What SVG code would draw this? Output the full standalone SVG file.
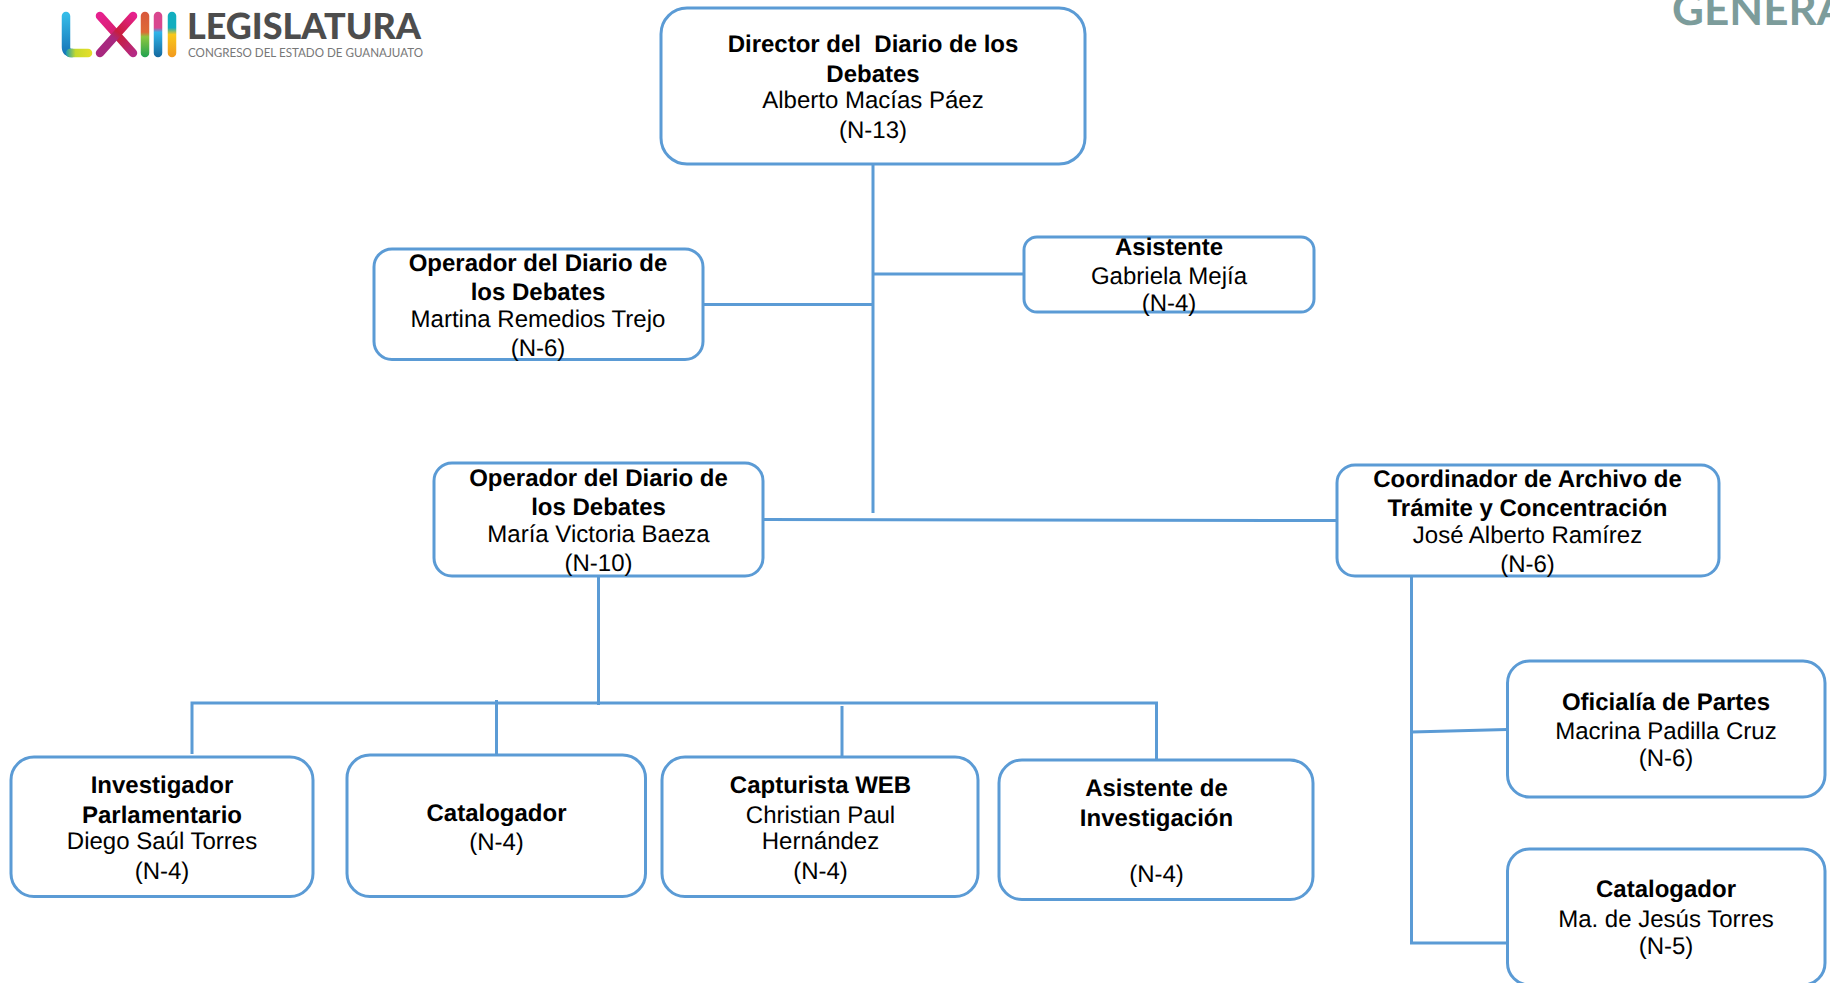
<svg xmlns="http://www.w3.org/2000/svg" width="1830" height="983" viewBox="0 0 1830 983">
<style>
.box{fill:#fff;stroke:#5B9BD5;stroke-width:3}
.ln{stroke:#5B9BD5;stroke-width:3;fill:none}
text{font-family:"Liberation Sans",Arial,sans-serif;font-size:24px;fill:#000;text-anchor:middle;text-rendering:geometricPrecision}
.b{font-weight:700}
.logo{fill:#4d4d4d;text-anchor:start;font-family:Lato,"Open Sans",sans-serif}
.bar{fill:none;stroke-width:8.5;stroke-linecap:round}
</style>
<defs>
<linearGradient id="gL" gradientUnits="userSpaceOnUse" x1="0" y1="14" x2="0" y2="57"><stop offset="0" stop-color="#35BCE8"/><stop offset="1" stop-color="#1470B5"/></linearGradient>
<linearGradient id="gF" gradientUnits="userSpaceOnUse" x1="66" y1="0" x2="90" y2="0"><stop offset="0" stop-color="#1C9CB0"/><stop offset=".4" stop-color="#C5DA2C"/><stop offset="1" stop-color="#E3DE2A"/></linearGradient>
<linearGradient id="gX1" gradientUnits="userSpaceOnUse" x1="100" y1="15" x2="134" y2="54"><stop offset="0" stop-color="#E6218E"/><stop offset=".45" stop-color="#D6206F"/><stop offset=".55" stop-color="#C81E3C"/><stop offset="1" stop-color="#B52A85"/></linearGradient>
<linearGradient id="gX2" gradientUnits="userSpaceOnUse" x1="134" y1="15" x2="100" y2="54"><stop offset="0" stop-color="#E6218E"/><stop offset=".45" stop-color="#C81E3C"/><stop offset=".6" stop-color="#A8287F"/><stop offset="1" stop-color="#A8287F"/></linearGradient>
<linearGradient id="g1" gradientUnits="userSpaceOnUse" x1="0" y1="12" x2="0" y2="57"><stop offset="0" stop-color="#D8583C"/><stop offset=".45" stop-color="#DE6A35"/><stop offset=".55" stop-color="#8DC63F"/><stop offset="1" stop-color="#22A34F"/></linearGradient>
<linearGradient id="g2" gradientUnits="userSpaceOnUse" x1="0" y1="12" x2="0" y2="57"><stop offset="0" stop-color="#D9478F"/><stop offset=".35" stop-color="#D9478F"/><stop offset=".45" stop-color="#2FB4E9"/><stop offset="1" stop-color="#15699F"/></linearGradient>
<linearGradient id="g3" gradientUnits="userSpaceOnUse" x1="0" y1="12" x2="0" y2="57"><stop offset="0" stop-color="#12AEBF"/><stop offset=".35" stop-color="#12AEBF"/><stop offset=".5" stop-color="#F8C81A"/><stop offset="1" stop-color="#F29A1F"/></linearGradient>
</defs>
<rect width="1830" height="983" fill="#fff"/>
<g id="logo">
<path class="bar" stroke="url(#gL)" d="M66 16V47Q66 53 72 53"/>
<path class="bar" stroke="url(#gF)" d="M70 53H88"/>
<path class="bar" stroke="url(#gX1)" d="M100 16L133 53"/>
<path class="bar" stroke="url(#gX2)" d="M133 16L100 53"/>
<path class="bar" stroke="url(#g1)" d="M145 16V53"/>
<path class="bar" stroke="url(#g2)" d="M158 16V53"/>
<path class="bar" stroke="url(#g3)" d="M172 16V53"/>
<text class="logo" x="187" y="39" style="font-size:36px;font-weight:900" textLength="234" lengthAdjust="spacingAndGlyphs">LEGISLATURA</text>
<text class="logo" x="188" y="57" style="font-size:12.5px;fill:#777" textLength="235" lengthAdjust="spacingAndGlyphs">CONGRESO DEL ESTADO DE GUANAJUATO</text>
</g>
<g id="header"><text x="1672" y="25" style="font-family:Lato,'Open Sans',sans-serif;font-size:44px;font-weight:700;fill:#7C9C9B;text-anchor:start">GENERA</text></g>
<g id="connectors">
<path class="ln" d="M873 164V513"/>
<path class="ln" d="M873 274H1024"/>
<path class="ln" d="M703 304.500H873"/>
<path class="ln" d="M764 519.500L1337 520.500"/>
<path class="ln" d="M598.500 576V705"/>
<path class="ln" d="M192 754V703H1156.500V760"/>
<path class="ln" d="M496.500 700V755"/>
<path class="ln" d="M842 706V757"/>
<path class="ln" d="M1411.500 576V943H1507"/>
<path class="ln" d="M1411.500 732L1507 729.500"/>
</g>
<g id="n-director"><rect class="box" x="661" y="8" width="424" height="156" rx="26"/>
<text class="b" x="873" y="52" xml:space="preserve">Director del  Diario de los</text><text class="b" x="873" y="82">Debates</text><text x="873" y="108">Alberto Macías Páez</text><text x="873" y="138">(N-13)</text></g>
<g id="n-asistente"><rect class="box" x="1024" y="237" width="290" height="75" rx="13"/>
<text class="b" x="1169" y="255">Asistente</text><text x="1169" y="284">Gabriela Mejía</text><text x="1169" y="311">(N-4)</text></g>
<g id="n-operador1"><rect class="box" x="374" y="249" width="329" height="110.500" rx="18"/>
<text class="b" x="538" y="271">Operador del Diario de</text><text class="b" x="538" y="300">los Debates</text><text x="538" y="327">Martina Remedios Trejo</text><text x="538" y="356">(N-6)</text></g>
<g id="n-operador2"><rect class="box" x="434" y="463" width="329" height="113" rx="18"/>
<text class="b" x="598.500" y="486">Operador del Diario de</text><text class="b" x="598.500" y="515">los Debates</text><text x="598.500" y="542">María Victoria Baeza</text><text x="598.500" y="571">(N-10)</text></g>
<g id="n-coordinador"><rect class="box" x="1337" y="465" width="382" height="111" rx="18"/>
<text class="b" x="1527.500" y="487">Coordinador de Archivo de</text><text class="b" x="1527.500" y="516">Trámite y Concentración</text><text x="1527.500" y="543">José Alberto Ramírez</text><text x="1527.500" y="572">(N-6)</text></g>
<g id="n-oficialia"><rect class="box" x="1507.500" y="661" width="317.500" height="136" rx="22"/>
<text class="b" x="1666" y="710">Oficialía de Partes</text><text x="1666" y="739">Macrina Padilla Cruz</text><text x="1666" y="766">(N-6)</text></g>
<g id="n-catalogador2"><rect class="box" x="1507.500" y="849" width="317.500" height="136" rx="22"/>
<text class="b" x="1666" y="897">Catalogador</text><text x="1666" y="927">Ma. de Jesús Torres</text><text x="1666" y="954">(N-5)</text></g>
<g id="n-investigador"><rect class="box" x="11" y="757" width="302" height="139.500" rx="23"/>
<text class="b" x="162" y="793">Investigador</text><text class="b" x="162" y="823">Parlamentario</text><text x="162" y="849">Diego Saúl Torres</text><text x="162" y="879">(N-4)</text></g>
<g id="n-catalogador1"><rect class="box" x="347" y="755" width="298.500" height="141.500" rx="23"/>
<text class="b" x="496.500" y="821">Catalogador</text><text x="496.500" y="850">(N-4)</text></g>
<g id="n-capturista"><rect class="box" x="662" y="757" width="316" height="139.500" rx="23"/>
<text class="b" x="820.500" y="793">Capturista WEB</text><text x="820.500" y="823">Christian Paul</text><text x="820.500" y="849">Hernández</text><text x="820.500" y="879">(N-4)</text></g>
<g id="n-asistente-inv"><rect class="box" x="999" y="760" width="314" height="139.500" rx="23"/>
<text class="b" x="1156.500" y="796">Asistente de</text><text class="b" x="1156.500" y="826">Investigación</text><text x="1156.500" y="882">(N-4)</text></g>
</svg>
